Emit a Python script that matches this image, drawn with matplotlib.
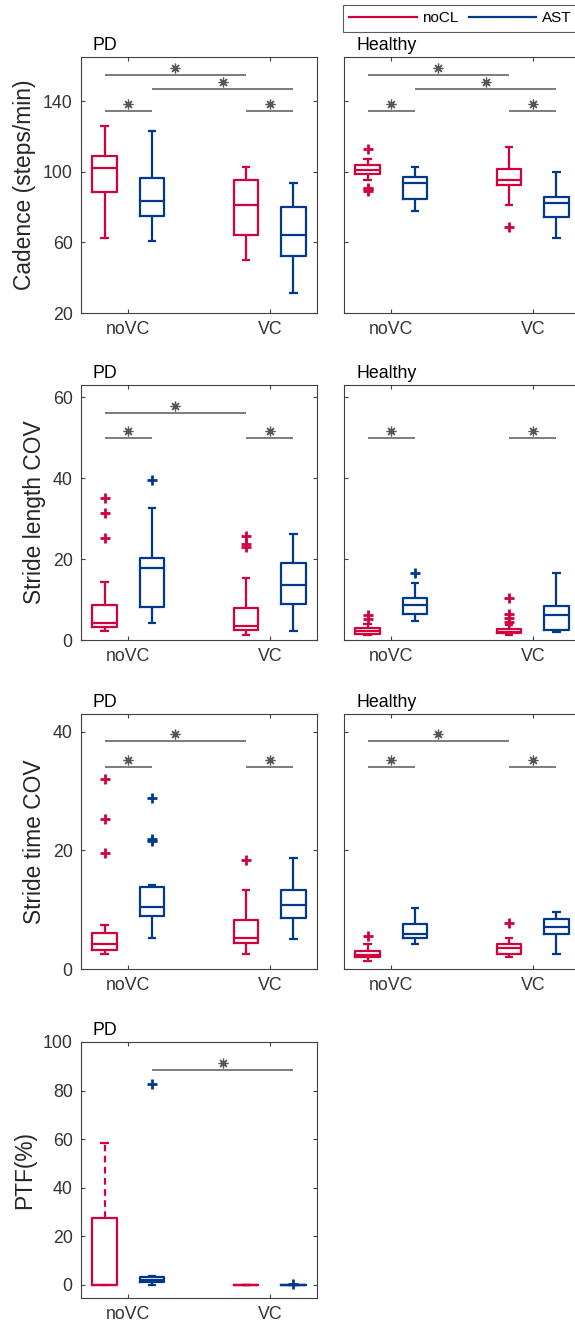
import matplotlib
matplotlib.use("Agg")
import matplotlib.pyplot as plt
import matplotlib.transforms as mtransforms
from matplotlib.lines import Line2D

plt.rcParams['font.family'] = ['Liberation Sans', 'DejaVu Sans']

RED = "#D2003C"
BLUE = "#00388C"
GREY = "#666666"

groups = ["noVC", "VC"]
conditions = ["noCL", "AST"]

# (whisker low, q1, median, q3, whisker high, outliers)
# order: noCL/noVC, AST/noVC, noCL/VC, AST/VC
cadence_pd = [
	(62.5, 88.6, 102.0, 109.0, 126.0, []),
	(61.0, 75.0, 83.5, 96.6, 123.3, []),
	(50.0, 64.3, 81.3, 95.5, 102.8, []),
	(31.2, 52.3, 64.3, 79.8, 93.4, []),
]
cadence_hc = [
	(95.5, 98.5, 101.0, 104.0, 107.0, [113.0, 91.0, 90.0, 89.0]),
	(78.0, 84.7, 93.9, 97.3, 102.8, []),
	(81.3, 92.6, 95.5, 101.7, 114.3, [68.8]),
	(62.5, 74.4, 82.4, 85.8, 99.8, []),
]
sl_pd = [
	(2.2, 3.3, 4.3, 8.6, 14.4, [35.1, 31.4, 25.1]),
	(4.1, 8.2, 17.9, 20.3, 32.5, [39.5]),
	(1.2, 2.5, 3.5, 7.8, 15.4, [25.8, 23.6, 23.0]),
	(2.2, 8.8, 13.6, 19.1, 26.1, []),
]
sl_hc = [
	(1.2, 1.6, 2.2, 3.0, 4.0, [6.3, 5.2]),
	(4.6, 6.5, 8.6, 10.4, 14.1, [16.6]),
	(1.2, 1.7, 2.1, 2.7, 3.6, [10.5, 6.4, 5.5, 4.5]),
	(2.0, 2.5, 6.2, 8.4, 16.5, []),
]
st_pd = [
	(2.5, 3.2, 4.3, 6.1, 7.4, [32.0, 25.3, 19.6]),
	(5.2, 9.0, 10.5, 13.8, 14.1, [28.8, 22.0, 21.6]),
	(2.6, 4.4, 5.2, 8.2, 13.4, [18.3]),
	(5.0, 8.6, 10.8, 13.4, 18.7, []),
]
st_hc = [
	(1.4, 2.0, 2.4, 3.0, 4.2, [5.6]),
	(4.3, 5.3, 5.9, 7.6, 10.3, []),
	(2.0, 2.5, 3.6, 4.2, 5.2, [7.8]),
	(2.6, 5.9, 7.0, 8.5, 9.6, []),
]
ptf_pd = [
	(0.0, 0.0, 0.0, 27.5, 58.5, []),
	(0.0, 1.0, 2.0, 3.0, 3.5, [82.5]),
	(0.0, 0.0, 0.0, 0.0, 0.0, []),
	(0.0, 0.0, 0.0, 0.0, 0.0, [0.4]),
]

# significance bars: (box a, box b, height)
sig_cadence = [(0, 2, 155), (1, 3, 147), (0, 1, 134.6), (2, 3, 134.6)]
sig_sl_pd = [(0, 2, 56), (0, 1, 49.9), (2, 3, 49.9)]
sig_sl_hc = [(0, 1, 49.9), (2, 3, 49.9)]
sig_st = [(0, 2, 38.5), (0, 1, 34), (2, 3, 34)]
sig_ptf = [(1, 3, 88.4)]

ylabels = ["Cadence (steps/min)", "Stride length COV", "Stride time COV", "PTF(%)"]
ylims = [(20, 165), (0, 63), (0, 43), (-5.5, 100)]
yticks = [[20, 60, 100, 140], [0, 20, 40, 60], [0, 20, 40], [0, 20, 40, 60, 80, 100]]

W, H = 575, 1331
fig = plt.figure(figsize=(W / 100, H / 100), dpi=100)

col_left = [81, 344]
rows = [(57, 313), (385, 640), (714, 969), (1042, 1298)]
ax_w = 236

positions = [1 - 0.167, 1 + 0.167, 2 - 0.167, 2 + 0.167]
colors = [RED, BLUE, RED, BLUE]


def draw_panel(ax, data, sig, title, row, show_labels):
	stats = []
	for lo, q1, med, q3, hi, out in data:
		stats.append(dict(whislo=lo, q1=q1, med=med, q3=q3, whishi=hi, fliers=out))
	res = ax.bxp(stats, positions=positions, widths=0.17, capwidths=0.057,
		manage_ticks=False, showfliers=True)
	for i, c in enumerate(colors):
		for key in ("whiskers", "caps"):
			for a in res[key][2 * i:2 * i + 2]:
				a.set_color(c)
				a.set_linewidth(1.6)
				a.set_solid_capstyle("butt")
		res["boxes"][i].set_color(c)
		res["boxes"][i].set_linewidth(1.6)
		res["medians"][i].set_color(c)
		res["medians"][i].set_linewidth(1.6)
		res["fliers"][i].set(marker="+", markersize=7, markeredgewidth=2,
			markeredgecolor=c, linestyle="none")

	star_tr = mtransforms.offset_copy(ax.transData, fig=fig, x=0, y=7, units="dots")
	for a, b, y in sig:
		x0, x1 = positions[a], positions[b]
		ax.plot([x0, x1], [y, y], color=GREY, lw=1.2, solid_capstyle="butt")
		ax.plot([(x0 + x1) / 2], [y], marker=(8, 2, 0), ms=7, mew=0.9,
			color="#555555", transform=star_tr, linestyle="none")

	ax.set_xlim(0.667, 2.333)
	ax.set_ylim(*ylims[row])
	ax.set_yticks(yticks[row])
	ax.set_xticks([1, 2])
	ax.set_xticklabels(groups)
	ax.tick_params(direction="in", length=3, width=0.8, top=True, right=True,
		labelsize=12.8, colors="#404040", labelcolor="#333333", pad=6)
	if not show_labels:
		ax.set_yticklabels([])
	else:
		ax.set_ylabel(ylabels[row], fontsize=16.4, color="#262626", labelpad=5)
	for s in ax.spines.values():
		s.set_color("#404040")
		s.set_linewidth(0.8)
	ax.text(12 / ax_w, 1.01, title, transform=ax.transAxes, ha="left", va="bottom",
		fontsize=12.8, color="black")
	return res


panels = [
	(0, 0, cadence_pd, sig_cadence, "PD"),
	(0, 1, cadence_hc, sig_cadence, "Healthy"),
	(1, 0, sl_pd, sig_sl_pd, "PD"),
	(1, 1, sl_hc, sig_sl_hc, "Healthy"),
	(2, 0, st_pd, sig_st, "PD"),
	(2, 1, st_hc, sig_st, "Healthy"),
	(3, 0, ptf_pd, sig_ptf, "PD"),
]

for row, col, data, sig, title in panels:
	top, bottom = rows[row]
	ax = fig.add_axes([col_left[col] / W, 1 - bottom / H, ax_w / W, (bottom - top) / H])
	res = draw_panel(ax, data, sig, title, row, col == 0)
	if row == 3:
		# PTF noCL/noVC upper whisker is dashed
		res["whiskers"][1].set_linestyle((0, (3, 2)))

handles = [Line2D([], [], color=RED, lw=1.6), Line2D([], [], color=BLUE, lw=1.6)]
leg = fig.legend(handles, conditions, loc="upper left", bbox_to_anchor=(343 / W, 1 - 5 / H),
	ncol=2, fontsize=11, frameon=True, fancybox=False, handlelength=4.4,
	handletextpad=0.35, columnspacing=0.7, borderpad=0.42, borderaxespad=0)
leg.get_frame().set_edgecolor("#333333")
leg.get_frame().set_linewidth(0.8)

fig.savefig("out.png", dpi=100)
